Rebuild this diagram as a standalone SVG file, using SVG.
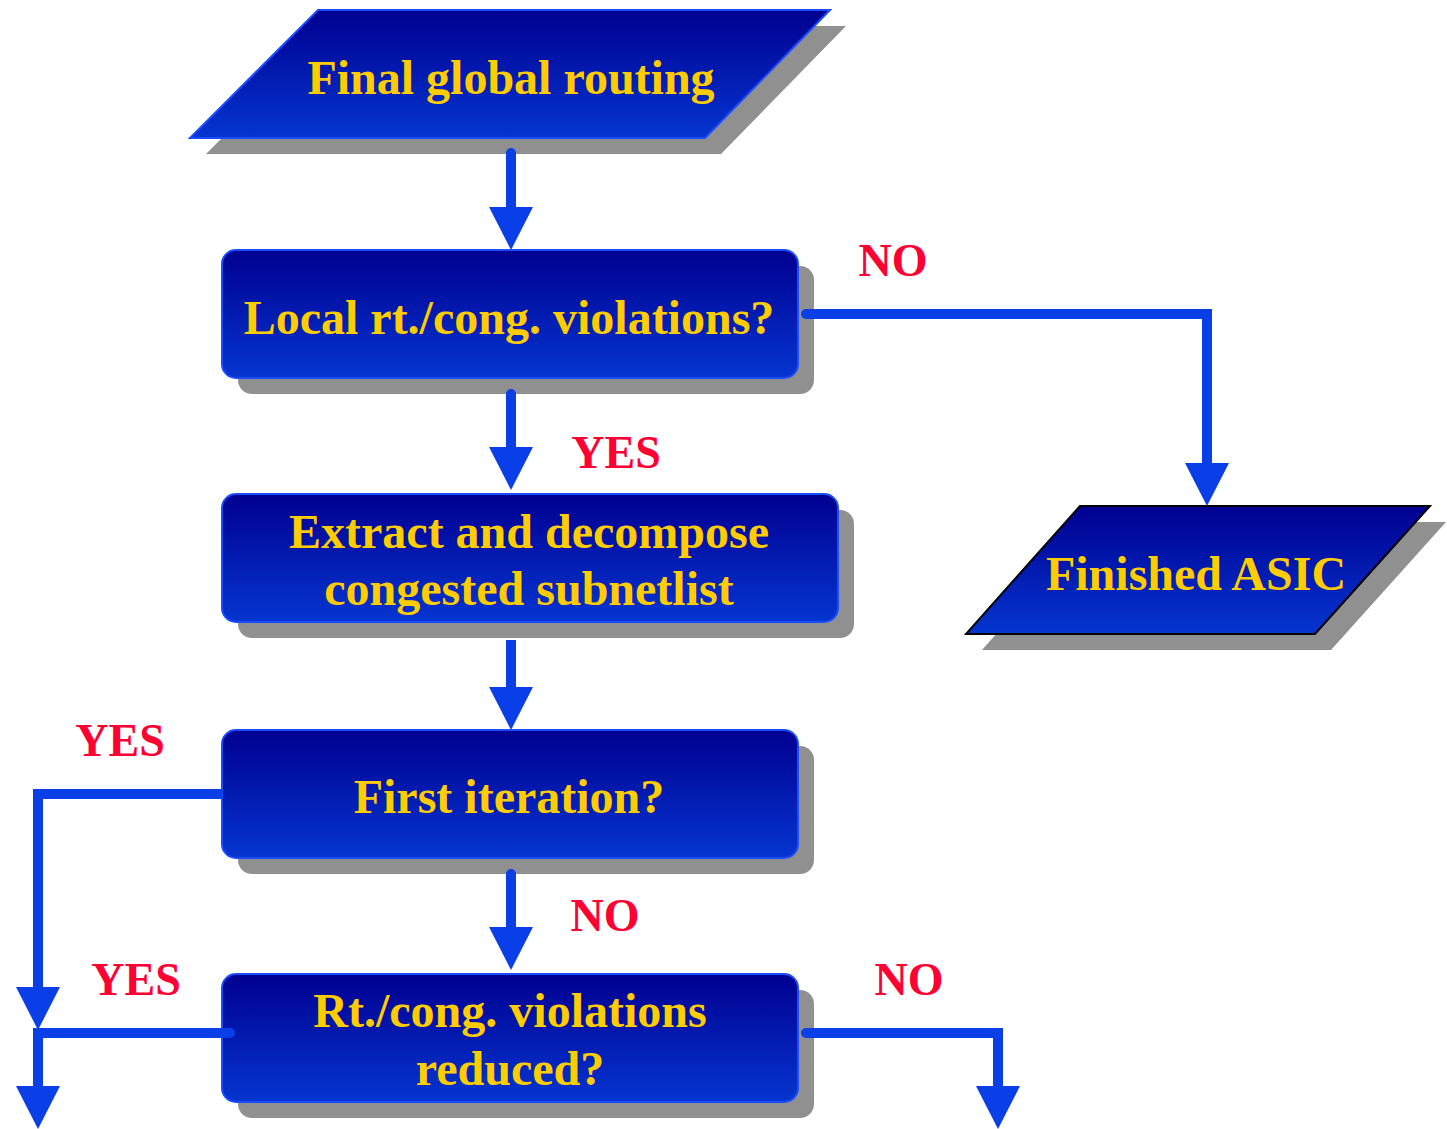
<svg xmlns="http://www.w3.org/2000/svg" xmlns:xlink="http://www.w3.org/1999/xlink" width="1447" height="1129" viewBox="0 0 1447 1129">
<style>
.shadow{fill:#909090}
.node{stroke:#1a4dff;stroke-width:2}
.lbl{font-family:"Liberation Serif","Times New Roman",serif;font-weight:bold;font-size:48px;fill:#ffcc00;text-anchor:middle}
.ans{font-family:"Liberation Serif","Times New Roman",serif;font-weight:bold;font-size:46px;fill:#ff0033;text-anchor:middle}
.wire{fill:none;stroke:#0a3fe8;stroke-width:10;stroke-linecap:round;stroke-linejoin:miter}
.head{fill:#0a3fe8}
</style>
<defs>
<linearGradient id="g" x1="0" y1="0" x2="0" y2="1">
<stop offset="0" stop-color="#000090"/>
<stop offset="1" stop-color="#0535d0"/>
</linearGradient>
<path id="ah" d="M-22,-43 L22,-43 L0,0 Z"/>
</defs>
<rect width="1447" height="1129" fill="#ffffff"/>

<g id="n-final-global-routing">
<polygon class="shadow" points="334,26 846,26 721,154 206,154"/>
<polygon class="node" fill="url(#g)" points="318,10 830,10 705,138 190,138"/>
<text class="lbl" x="511" y="94">Final global routing</text>
</g>

<g id="n-local-violations">
<rect class="shadow" x="238" y="266" width="576" height="128" rx="14"/>
<rect class="node" fill="url(#g)" x="222" y="250" width="576" height="128" rx="14"/>
<text class="lbl" x="509" y="334">Local rt./cong. violations?</text>
</g>

<g id="n-extract">
<rect class="shadow" x="238" y="510" width="616" height="128" rx="14"/>
<rect class="node" fill="url(#g)" x="222" y="494" width="616" height="128" rx="14"/>
<text class="lbl" x="529" y="548">Extract and decompose</text>
<text class="lbl" x="529" y="605">congested subnetlist</text>
</g>

<g id="n-first-iteration">
<rect class="shadow" x="238" y="746" width="576" height="128" rx="14"/>
<rect class="node" fill="url(#g)" x="222" y="730" width="576" height="128" rx="14"/>
<text class="lbl" x="509" y="813">First iteration?</text>
</g>

<g id="n-reduced">
<rect class="shadow" x="238" y="990" width="576" height="128" rx="14"/>
<rect class="node" fill="url(#g)" x="222" y="974" width="576" height="128" rx="14"/>
<text class="lbl" x="510" y="1027">Rt./cong. violations</text>
<text class="lbl" x="510" y="1085">reduced?</text>
</g>

<g id="n-finished-asic">
<polygon class="shadow" points="1096,522 1446,522 1331,650 982,650"/>
<polygon fill="url(#g)" stroke="#000000" stroke-width="2" points="1080,506 1430,506 1315,634 966,634"/>
<text class="lbl" x="1196" y="590">Finished ASIC</text>
</g>

<g id="connectors">
<path class="wire" d="M511,153 V212"/>
<use href="#ah" class="head" x="511" y="250"/>
<path class="wire" d="M806,314 H1207 V466" style="stroke-linecap:butt"/>
<circle cx="806" cy="314" r="5" class="head"/>
<use href="#ah" class="head" x="1207" y="506"/>
<path class="wire" d="M511,394 V452"/>
<use href="#ah" class="head" x="511" y="490"/>
<path class="wire" d="M511,640 V692" style="stroke-linecap:butt"/>
<use href="#ah" class="head" x="511" y="730"/>
<path class="wire" d="M222,794 H38 V995" style="stroke-linecap:butt"/>
<use href="#ah" class="head" x="38" y="1030"/>
<path class="wire" d="M511,874 V932"/>
<use href="#ah" class="head" x="511" y="970"/>
<path class="wire" d="M230,1033 H38 V1090"/>
<use href="#ah" class="head" x="38" y="1129"/>
<path class="wire" d="M806,1033 H998 V1090"/>
<use href="#ah" class="head" x="998" y="1129"/>
</g>

<g id="answers">
<text class="ans" x="893" y="276">NO</text>
<text class="ans" x="616" y="468">YES</text>
<text class="ans" x="120" y="756">YES</text>
<text class="ans" x="605" y="931">NO</text>
<text class="ans" x="136" y="995">YES</text>
<text class="ans" x="909" y="995">NO</text>
</g>
</svg>
